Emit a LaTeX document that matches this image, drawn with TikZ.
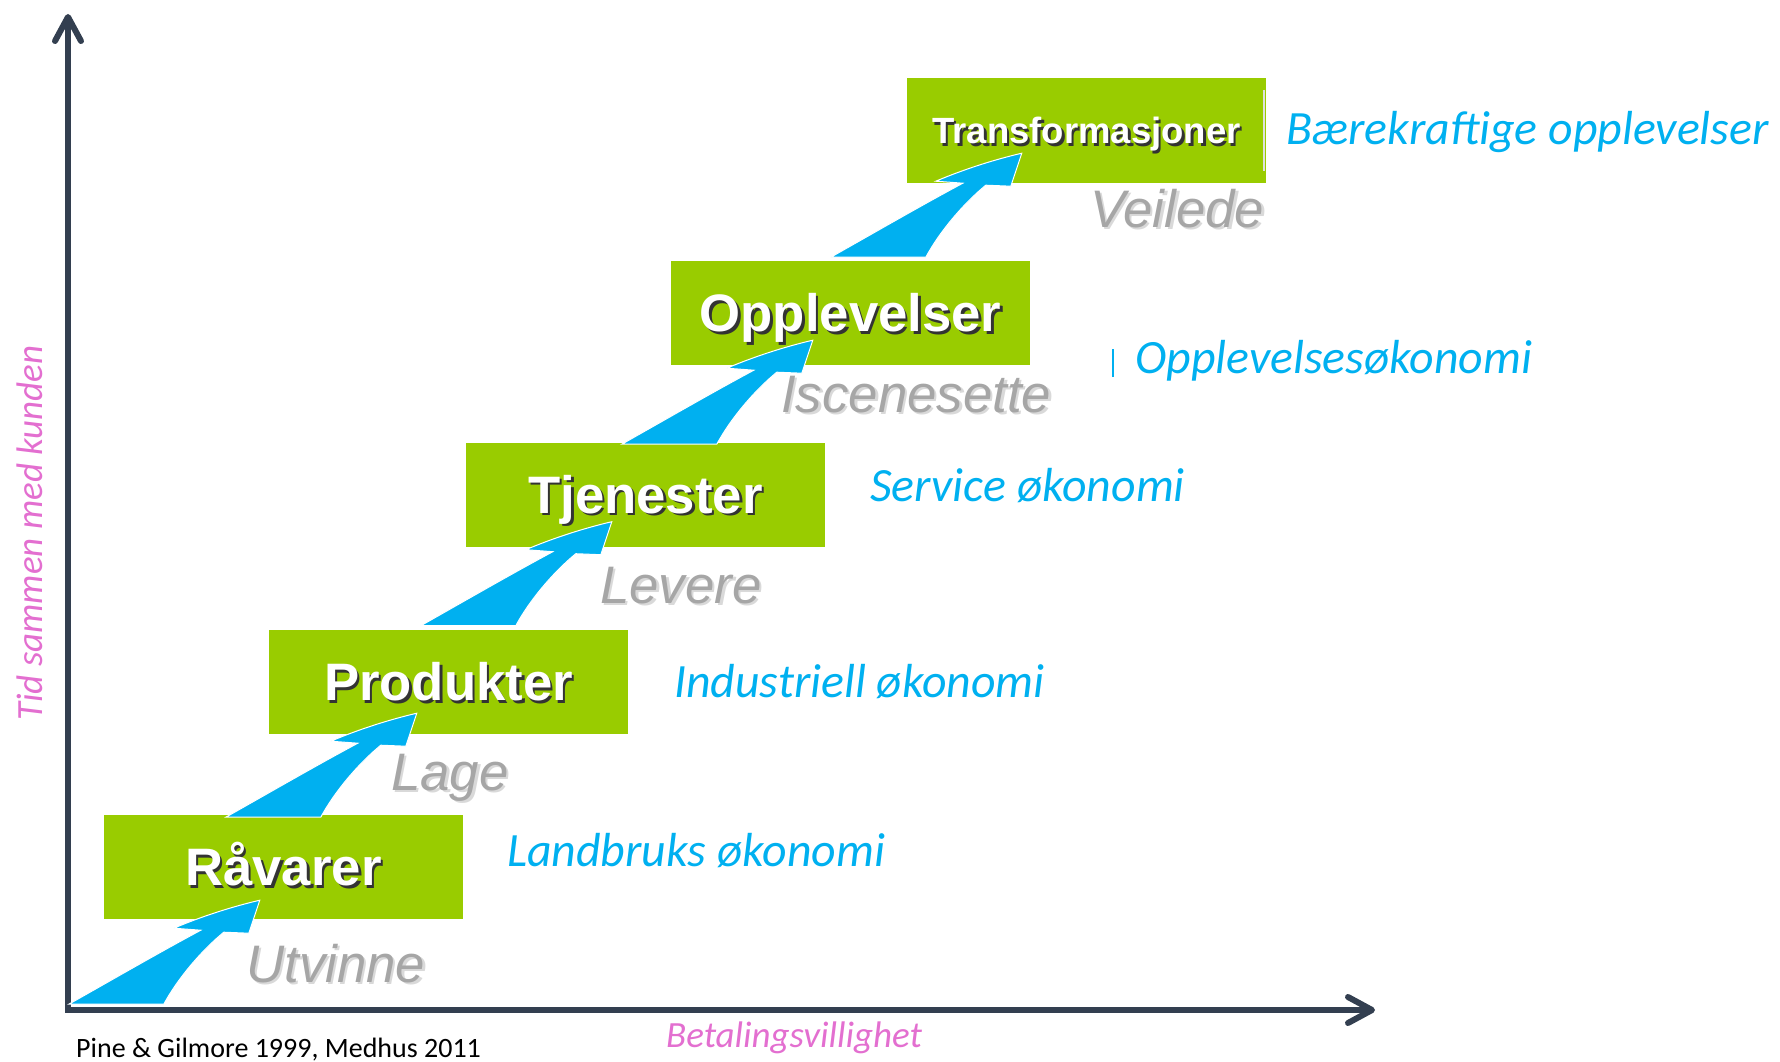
\documentclass[tikz,border=0pt]{standalone}
\usepackage{fontspec}
\setmainfont{Carlito}
\newfontfamily\arialfont{Liberation Sans}
\usetikzlibrary{arrows.meta}
\definecolor{stagegreen}{HTML}{99CC00}
\definecolor{swooshblue}{HTML}{00B0F0}
\definecolor{axisgrey}{HTML}{333F50}
\definecolor{verbgrey}{HTML}{A6A6A6}
\definecolor{axispink}{HTML}{E36FD0}
\newcommand{\dropshade}[2]{\leavevmode\rlap{\kern2.5pt\raisebox{-2.5pt}{\color{#1}#2}}#2}
\begin{document}
\begin{tikzpicture}[x=1pt, y=-1pt,
  stage/.style = {fill=stagegreen, minimum width=359pt, minimum height=104pt, inner sep=0pt, text=white, text height=37.7pt, text depth=0pt, font=\arialfont\bfseries\fontsize{52.7}{60}\selectfont},
  verb/.style = {anchor=base west, inner sep=0pt, text=verbgrey, font=\arialfont\itshape\fontsize{52.8}{60}\selectfont},
  econ/.style = {anchor=base west, inner sep=0pt, text=swooshblue, font=\itshape\fontsize{47.8}{56}\selectfont},
  axislabel/.style = {anchor=base west, inner sep=0pt, text=axispink, font=\itshape\fontsize{37}{44}\selectfont},
  axis/.style = {draw=axisgrey, line width=6pt, {Straight Barb[length=24pt, width=26pt, round]}-{Straight Barb[length=24pt, width=26pt, round]}},
  swoosh/.pic = {\filldraw[fill=swooshblue, draw=white, line width=1pt] (-191,104) .. controls (-145,78) and (-100,52) .. (-59,30) -- (-86,28) .. controls (-60,17) and (-30,7) .. (0,0) -- (-11,33) -- (-36,32) .. controls (-58,50) and (-82,78) .. (-96,104) -- cycle;}]
\useasboundingbox (0,0) rectangle (1780,1062);
\coordinate (ytop) at (68,14);
\coordinate (origin) at (68,1010);
\coordinate (xend) at (1375,1010);
\draw[axis] (ytop) -- (origin) -- (xend);
\node[stage] (raa) at (283.5,867) {\dropshade{black!80}{Råvarer}};
\node[stage] (prod) at (448.5,682) {\dropshade{black!80}{Produkter}};
\node[stage] (tjen) at (645.5,494.5) {\dropshade{black!80}{Tjenester}};
\node[stage] (opp) at (850.5,313) {\dropshade{black!80}{Opplevelser}};
\node[stage, text height=26pt, font=\arialfont\bfseries\fontsize{36.5}{44}\selectfont] (trans) at (1086.5,130.5) {\dropshade{black!80}{Transformasjoner}};
\draw[gray!25, line width=1.5pt] ([xshift=-2pt, yshift=-12pt]trans.north east) -- ([xshift=-2pt, yshift=12pt]trans.south east);
\pic at ([shift={(156,-19)}]raa.south west) {swoosh};
\pic at ([shift={(148,-21)}]prod.south west) {swoosh};
\pic at ([shift={(146,-25)}]tjen.south west) {swoosh};
\pic at ([shift={(142,-25)}]opp.south west) {swoosh};
\pic at ([shift={(115,-29.5)}]trans.south west) {swoosh};
\node[verb] (utvinne) at (246,982) {\dropshade{gray!30}{Utvinne}};
\node[verb] (lage) at (391,790) {\dropshade{gray!30}{Lage}};
\node[verb] (levere) at (600,603) {\dropshade{gray!30}{Levere}};
\node[verb] (iscene) at (781,412) {\dropshade{gray!30}{Iscenesette}};
\node[verb] (veilede) at (1090,227) {\dropshade{gray!30}{Veilede}};
\node[econ] (landbruk) at (507,866) {Landbruks økonomi};
\node[econ] (industri) at (674,697) {Industriell økonomi};
\node[econ] (service) at (870,501) {Service økonomi};
\node[econ] (opplev) at (1135,373) {Opplevelsesøkonomi};
\node[econ] (baerekraft) at (1286,145) {Bærekraftige opplevelser};
\draw[swooshblue, line width=1.5pt] ([xshift=-22pt, yshift=-4pt]opplev.base west) -- ++(0,-28);
\node[axislabel] (betaling) at (666,1047) {Betalingsvillighet};
\node[axislabel, rotate=90] (tid) at (42,721) {Tid sammen med kunden};
\node[anchor=base west, inner sep=0pt, font=\fontsize{28}{33}\selectfont] (kilde) at (76,1057) {Pine \& Gilmore 1999, Medhus 2011};
\end{tikzpicture}
\end{document}
